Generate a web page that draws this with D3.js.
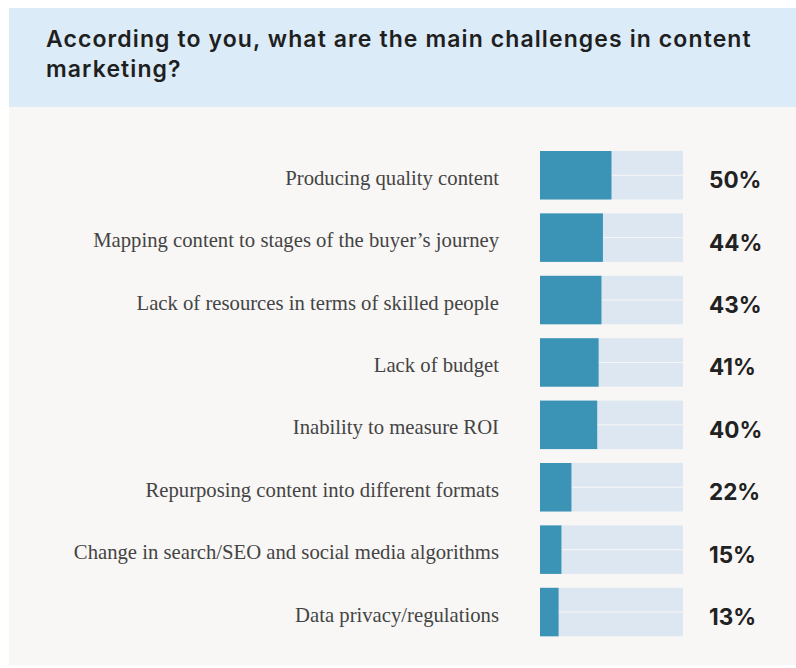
<!DOCTYPE html>
<html>
<head>
<meta charset="utf-8">
<script src="https://cdn.jsdelivr.net/npm/d3@7"></script>
<style>
  html, body { margin: 0; padding: 0; background: #ffffff; }
  svg { display: block; }
</style>
</head>
<body>
<svg id="chart" width="796" height="668"></svg>
<script>
// Survey answers: share of respondents naming each challenge
const categories = [
  "Producing quality content",
  "Mapping content to stages of the buyer\u2019s journey",
  "Lack of resources in terms of skilled people",
  "Lack of budget",
  "Inability to measure ROI",
  "Repurposing content into different formats",
  "Change in search/SEO and social media algorithms",
  "Data privacy/regulations"
];
const values = [50, 44, 43, 41, 40, 22, 15, 13];
const titleLines = [
  "According to you, what are the main challenges in content",
  "marketing?"
];

const svg = d3.select("#chart");

// panel: light-blue header over an off-white body
const panel = { x: 9, y: 8, right: 796, bottom: 665, headerBottom: 107 };
svg.append("rect")
  .attr("x", panel.x).attr("y", panel.headerBottom)
  .attr("width", panel.right - panel.x).attr("height", panel.bottom - panel.headerBottom)
  .attr("fill", "#f8f7f6");
svg.append("rect")
  .attr("x", panel.x).attr("y", panel.y)
  .attr("width", panel.right - panel.x).attr("height", panel.headerBottom - panel.y)
  .attr("fill", "#dbebf8");

svg.append("g").selectAll("text")
  .data(titleLines)
  .join("text")
  .attr("x", 46)
  .attr("y", (d, i) => 47 + i * 30)
  .attr("font-family", "Inter, 'Open Sans', sans-serif")
  .attr("font-weight", 600)
  .attr("font-size", 23)
  .attr("letter-spacing", 1.1)
  .attr("fill", "#1f1f1f")
  .text(d => d);

// scales
const x = d3.scaleLinear().domain([0, 100]).range([540, 683]);
const y = d3.scaleBand()
  .domain(categories)
  .range([151, 636.3])
  .paddingInner(0.223)
  .paddingOuter(0);

const rows = svg.append("g").selectAll("g")
  .data(categories.map((c, i) => ({ cat: c, value: values[i] })))
  .join("g");

// background track, split into two halves by a thin gap
const half = (y.bandwidth() - 1) / 2;
rows.append("rect")
  .attr("x", x(0)).attr("y", d => y(d.cat))
  .attr("width", x(100) - x(0)).attr("height", half)
  .attr("fill", "#dde7f1");
rows.append("rect")
  .attr("x", x(0)).attr("y", d => y(d.cat) + half + 1)
  .attr("width", x(100) - x(0)).attr("height", half)
  .attr("fill", "#dde7f1");

// value bar
rows.append("rect")
  .attr("x", x(0)).attr("y", d => y(d.cat))
  .attr("width", d => x(d.value) - x(0))
  .attr("height", y.bandwidth())
  .attr("fill", "#3b93b6");

// category labels
rows.append("text")
  .attr("x", 499)
  .attr("y", d => y(d.cat) + y.bandwidth() / 2 + 9.5)
  .attr("text-anchor", "end")
  .attr("font-family", "'Liberation Serif', 'Times New Roman', serif")
  .attr("font-size", 20.7)
  .attr("fill", "#444444")
  .text(d => d.cat);

// value labels
rows.append("text")
  .attr("x", 709)
  .attr("y", d => y(d.cat) + y.bandwidth() / 2 + 13)
  .attr("font-family", "Inter, Roboto, sans-serif")
  .attr("font-weight", 700)
  .attr("font-size", 22.5)
  .attr("fill", "#222222")
  .text(d => d.value + "%");
</script>
</body>
</html>
